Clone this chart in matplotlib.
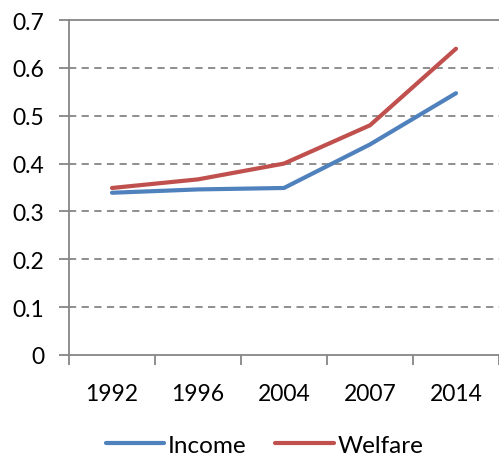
import matplotlib as mpl
import matplotlib.pyplot as plt
import numpy as np

years   = ['1992', '1996', '2004', '2007', '2014']
income  = [0.339, 0.346, 0.349, 0.440, 0.547]
welfare = [0.349, 0.367, 0.400, 0.480, 0.640]
yticks  = [0, 0.1, 0.2, 0.3, 0.4, 0.5, 0.6, 0.7]

plt.rcParams['font.family'] = ['Lato', 'DejaVu Sans']
plt.rcParams['font.size'] = 16.5

gray = '#868686'

fig = plt.figure(figsize=(4.99, 4.6), dpi=100)
ax = fig.add_axes([69/499, 1 - 356/460, 430/499, 335/460])

x = np.arange(len(years))
ax.plot(x, income, color='#4F81BD', lw=3.0, label='Income', solid_capstyle='round')
ax.plot(x, welfare, color='#C0504D', lw=3.0, label='Welfare', solid_capstyle='round')

ax.set_xlim(-0.5, len(years) - 0.5)
ax.set_ylim(0, 0.7)
ax.set_yticks(yticks)
ax.set_yticklabels(['0' if v == 0 else f'{v:.1f}' for v in yticks])

# category labels in the middle, tick marks on the boundaries
ax.set_xticks(x)
ax.set_xticklabels(years)
ax.set_xticks(np.arange(-0.5, len(years)), minor=True)
ax.tick_params(axis='x', which='major', length=0, pad=20)
ax.tick_params(axis='x', which='minor', length=7, width=1.3, color=gray, direction='out')
ax.tick_params(axis='y', length=7, width=1.3, color=gray, pad=11)

for v in yticks[1:-1]:
    ax.axhline(v, color=gray, lw=1.3, ls=(0, (4, 3)), zorder=0)

for side in ['left', 'bottom', 'top']:
    ax.spines[side].set_color(gray)
    ax.spines[side].set_linewidth(1.3)
ax.spines['right'].set_visible(False)

fig.legend(loc='center', bbox_to_anchor=(0.53, 1 - 446/460), ncol=2, frameon=False,
           handlelength=2.4, handletextpad=0.15, columnspacing=1.2, fontsize=17.5)

plt.savefig('out.png', dpi=100)
